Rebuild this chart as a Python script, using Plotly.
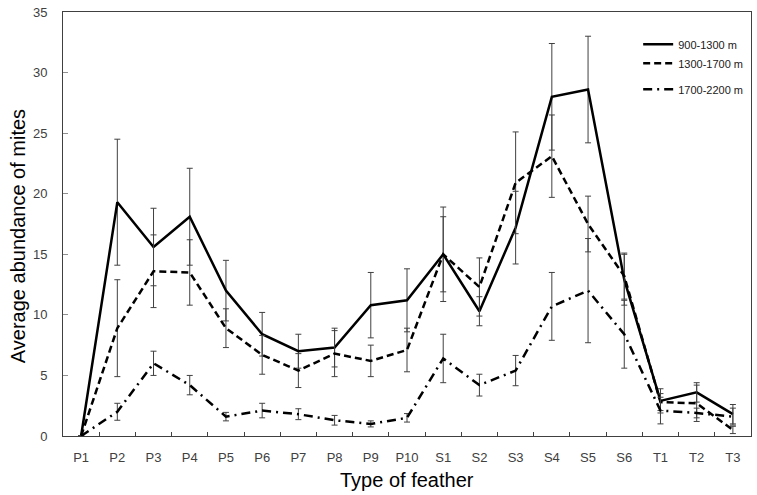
import plotly.graph_objects as go

categories = ["P1", "P2", "P3", "P4", "P5", "P6", "P7", "P8", "P9", "P10",
              "S1", "S2", "S3", "S4", "S5", "S6", "T1", "T2", "T3"]

series_names = ["900-1300 m", "1300-1700 m", "1700-2200 m"]

low_alt = [0, 19.3, 15.6, 18.1, 12.0, 8.4, 7.0, 7.3, 10.8, 11.2,
           15.0, 10.3, 17.2, 28.0, 28.6, 12.9, 2.9, 3.6, 1.8]
low_err = [None, 5.2, 3.2, 4.0, 2.5, 1.8, 1.4, 1.6, 2.7, 2.6,
           3.9, 1.2, 3.0, 4.4, 4.4, 2.1, 1.0, 0.8, 0.8]

mid_alt = [0, 8.9, 13.6, 13.5, 8.9, 6.7, 5.4, 6.8, 6.2, 7.1,
           15.0, 12.3, 20.9, 23.1, 17.5, 13.2, 2.8, 2.7, 0.5]
mid_err = [None, 4.0, 3.0, 2.7, 1.6, 1.6, 1.4, 1.9, 1.3, 1.8,
           3.1, 2.4, 4.2, 3.4, 2.3, 1.9, 0.7, 1.5, 0.3]

high_alt = [0, 2.0, 6.0, 4.2, 1.6, 2.1, 1.8, 1.3, 1.0, 1.5,
            6.4, 4.2, 5.4, 10.7, 12.0, 8.4, 2.1, 1.9, 1.6]
high_err = [None, 0.7, 1.0, 0.8, 0.35, 0.6, 0.45, 0.4, 0.25, 0.35,
            2.0, 0.9, 1.25, 2.8, 4.3, 2.8, 1.1, 0.4, 0.7]

y_ticks = [0, 5, 10, 15, 20, 25, 30, 35]

line_dashes = ["solid", "7px,4px", "9px,5px,2px,5px"]
groups = ["g1", "g1", "g2"]

fig = go.Figure()
for name, vals, errs, dash, grp in zip(series_names,
                                       [low_alt, mid_alt, high_alt],
                                       [low_err, mid_err, high_err],
                                       line_dashes, groups):
    fig.add_trace(go.Scatter(
        x=categories, y=vals, name=name, mode="lines",
        legendgroup=grp,
        line=dict(color="black", width=2.5, dash=dash),
        error_y=dict(type="data", array=errs, visible=True,
                     color="#404040", thickness=1, width=3),
    ))

axis_font = dict(family="Liberation Sans, Arial, sans-serif", size=13, color="#404040")

fig.update_layout(
    width=757, height=495,
    margin=dict(l=63, r=5, t=10, b=59),
    paper_bgcolor="white", plot_bgcolor="white",
    showlegend=True,
    legend=dict(x=0.836, y=0.958, xanchor="left", yanchor="top",
                bgcolor="rgba(0,0,0,0)", borderwidth=0,
                font=dict(family="Liberation Sans, Arial, sans-serif", size=11, color="#202020"),
                tracegroupgap=7, itemwidth=30, traceorder="grouped"),
    xaxis=dict(type="category", categoryorder="array", categoryarray=categories,
               range=[-0.5, len(categories) - 0.5],
               showgrid=False, zeroline=False,
               showline=True, linecolor="#404040", linewidth=1, mirror=True,
               ticks="inside", ticklen=4, tickcolor="#404040", tickson="boundaries",
               tickfont=axis_font, ticklabelstandoff=9),
    yaxis=dict(range=[0, 35], tickvals=y_ticks,
               showgrid=False, zeroline=False,
               showline=True, linecolor="#404040", linewidth=1, mirror=True,
               ticks="inside", ticklen=5, tickcolor="#909090",
               tickfont=axis_font, ticklabelstandoff=12),
    annotations=[
        dict(text="Average abundance of mites", xref="paper", yref="paper",
             x=-0.065, y=0.472, xanchor="center", yanchor="middle",
             textangle=-90, showarrow=False,
             font=dict(family="Liberation Sans, Arial, sans-serif", size=20, color="black")),
        dict(text="Type of feather", xref="paper", yref="paper",
             x=0.5, y=-0.103, xanchor="center", yanchor="middle",
             showarrow=False,
             font=dict(family="Liberation Sans, Arial, sans-serif", size=20, color="black")),
    ],
)

fig.write_html("out.html", config={"displayModeBar": False},
               post_script="document.body.style.margin='0';document.body.style.overflow='hidden';")
